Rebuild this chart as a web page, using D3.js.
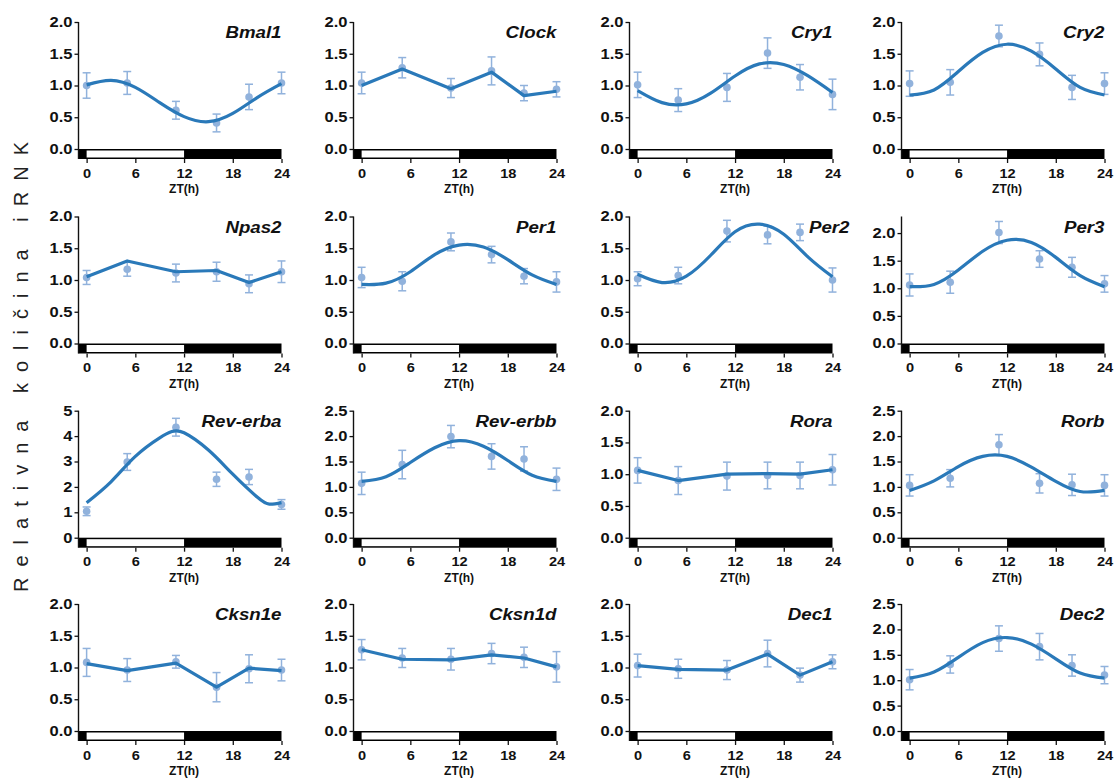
<!DOCTYPE html>
<html lang="sr">
<head>
<meta charset="UTF-8">
<title>Relativna količina iRNK</title>
<script src="https://d3js.org/d3.v7.min.js"></script>
<style>
    body { margin: 0; background: #fff; }
    svg { display: block; font-family: "Liberation Sans", Arial, sans-serif; }
    .tick text { font-weight: bold; font-size: 14px; fill: #111; }
    .x-axis .tick text { font-size: 13.5px; }
    .tick line { stroke: #111; stroke-width: 1.3; }
</style>
</head>
<body>
<div id="chart"></div>
<script>
// sample times (ZT, h) and axis ticks
const sampleTimes = [0, 5, 11, 16, 20, 24];
const fitTimes = [0, 3, 6, 9, 12, 15, 18, 21, 24];
const revErbaFitTimes = [0, 3, 6, 9, 10.5, 12, 15, 18, 21, 22.5, 24];
const xTicks = [0, 6, 12, 18, 24];
const ticks20 = [0, 0.5, 1, 1.5, 2];
const ticks25 = [0, 0.5, 1, 1.5, 2, 2.5];
const ticks5 = [0, 1, 2, 3, 4, 5];

const genes = ["Bmal1", "Clock", "Cry1", "Cry2", "Npas2", "Per1", "Per2", "Per3",
               "Rev-erba", "Rev-erbb", "Rora", "Rorb", "Cksn1e", "Cksn1d", "Dec1", "Dec2"];
const yMax = [2, 2, 2, 2, 2, 2, 2, 2.3, 5, 2.5, 2, 2.5, 2, 2, 2, 2.5];

// means and SEM at sampleTimes
const bmal1Mean = [1.00, 1.04, 0.61, 0.41, 0.82, 1.04];
const bmal1Sem  = [0.20, 0.18, 0.14, 0.14, 0.20, 0.17];
const clockMean = [1.04, 1.28, 0.96, 1.23, 0.88, 0.94];
const clockSem  = [0.17, 0.16, 0.15, 0.22, 0.12, 0.12];
const cry1Mean  = [1.01, 0.77, 0.97, 1.51, 1.13, 0.86];
const cry1Sem   = [0.20, 0.18, 0.22, 0.24, 0.20, 0.24];
const cry2Mean  = [1.03, 1.05, 1.78, 1.49, 0.97, 1.03];
const cry2Sem   = [0.20, 0.20, 0.17, 0.18, 0.19, 0.17];
const npas2Mean = [1.04, 1.17, 1.11, 1.13, 0.94, 1.13];
const npas2Sem  = [0.11, 0.11, 0.14, 0.15, 0.14, 0.17];
const per1Mean  = [1.04, 0.98, 1.60, 1.40, 1.06, 0.97];
const per1Sem   = [0.16, 0.15, 0.14, 0.13, 0.12, 0.16];
const per2Mean  = [1.02, 1.07, 1.77, 1.71, 1.75, 1.00];
const per2Sem   = [0.11, 0.13, 0.17, 0.14, 0.13, 0.19];
const per3Mean  = [1.06, 1.11, 2.01, 1.53, 1.38, 1.08];
const per3Sem   = [0.20, 0.20, 0.20, 0.15, 0.18, 0.15];
const revErbaMean = [1.04, 2.98, 4.35, 2.30, 2.39, 1.31];
const revErbaSem  = [0.17, 0.33, 0.35, 0.28, 0.30, 0.19];
const revErbbMean = [1.07, 1.44, 1.99, 1.60, 1.55, 1.15];
const revErbbSem  = [0.22, 0.28, 0.22, 0.25, 0.24, 0.22];
const roraMean  = [1.06, 0.90, 0.97, 0.98, 0.98, 1.07];
const roraSem   = [0.20, 0.22, 0.22, 0.21, 0.21, 0.24];
const rorbMean  = [1.03, 1.17, 1.83, 1.07, 1.04, 1.03];
const rorbSem   = [0.21, 0.17, 0.20, 0.19, 0.21, 0.21];
const cksn1eMean = [1.08, 0.96, 1.09, 0.69, 0.98, 0.96];
const cksn1eSem  = [0.22, 0.18, 0.10, 0.23, 0.22, 0.17];
const cksn1dMean = [1.28, 1.15, 1.13, 1.22, 1.16, 1.01];
const cksn1dSem  = [0.16, 0.15, 0.17, 0.16, 0.16, 0.24];
const dec1Mean  = [1.03, 0.98, 0.96, 1.22, 0.88, 1.09];
const dec1Sem   = [0.18, 0.15, 0.15, 0.21, 0.11, 0.11];
const dec2Mean  = [1.01, 1.31, 1.82, 1.66, 1.29, 1.10];
const dec2Sem   = [0.20, 0.17, 0.25, 0.26, 0.21, 0.17];

// fitted (cosinor) curves, read at fitTimes
const bmal1Fit   = [1.01, 1.08, 0.97, 0.73, 0.51, 0.43, 0.56, 0.81, 1.03];
const cry1Fit    = [0.92, 0.73, 0.71, 0.88, 1.15, 1.34, 1.33, 1.15, 0.89];
const cry2Fit    = [0.85, 0.93, 1.22, 1.52, 1.65, 1.54, 1.26, 0.97, 0.85];
const per1Fit    = [0.93, 0.95, 1.13, 1.40, 1.55, 1.52, 1.32, 1.08, 0.93];
const per2Fit    = [1.09, 0.96, 1.06, 1.39, 1.76, 1.88, 1.72, 1.36, 1.05];
const per3Fit    = [1.03, 1.07, 1.33, 1.67, 1.87, 1.83, 1.56, 1.23, 1.03];
const revErbaFit = [1.38, 2.20, 3.20, 3.93, 4.18, 4.13, 3.45, 2.50, 1.60, 1.32, 1.38];
const revErbbFit = [1.11, 1.20, 1.48, 1.77, 1.91, 1.80, 1.52, 1.23, 1.11];
const rorbFit    = [0.93, 1.12, 1.40, 1.60, 1.60, 1.39, 1.11, 0.91, 0.93];
const dec2Fit    = [1.04, 1.16, 1.45, 1.74, 1.84, 1.71, 1.42, 1.14, 1.04];

// connecting lines (non-rhythmic genes), at sampleTimes
const clockLine  = [1.00, 1.26, 0.95, 1.21, 0.84, 0.91];
const npas2Line  = [1.05, 1.30, 1.13, 1.15, 0.96, 1.13];
const roraLine   = [1.06, 0.90, 1.00, 1.01, 1.00, 1.07];
const cksn1eLine = [1.06, 0.95, 1.07, 0.69, 0.99, 0.95];
const cksn1dLine = [1.28, 1.13, 1.12, 1.20, 1.15, 1.01];
const dec1Line   = [1.03, 0.97, 0.96, 1.21, 0.88, 1.09];

const means = [bmal1Mean, clockMean, cry1Mean, cry2Mean, npas2Mean, per1Mean, per2Mean, per3Mean,
               revErbaMean, revErbbMean, roraMean, rorbMean, cksn1eMean, cksn1dMean, dec1Mean, dec2Mean];
const sems = [bmal1Sem, clockSem, cry1Sem, cry2Sem, npas2Sem, per1Sem, per2Sem, per3Sem,
              revErbaSem, revErbbSem, roraSem, rorbSem, cksn1eSem, cksn1dSem, dec1Sem, dec2Sem];
const lines = [
    [fitTimes, bmal1Fit, true], [sampleTimes, clockLine, false], [fitTimes, cry1Fit, true], [fitTimes, cry2Fit, true],
    [sampleTimes, npas2Line, false], [fitTimes, per1Fit, true], [fitTimes, per2Fit, true], [fitTimes, per3Fit, true],
    [revErbaFitTimes, revErbaFit, true], [fitTimes, revErbbFit, true], [sampleTimes, roraLine, false], [fitTimes, rorbFit, true],
    [sampleTimes, cksn1eLine, false], [sampleTimes, cksn1dLine, false], [sampleTimes, dec1Line, false], [fitTimes, dec2Fit, true]
];

const W = 1117, H = 778;
const colX = [78.5, 353.5, 629.5, 901.5];
const rowY = [149, 343.5, 537.7, 731];
const plotH = 127, barH = 10;
const pointColor = "#91b2dc", lineColor = "#2a79b9";

const svg = d3.select("#chart").append("svg")
    .attr("width", W)
    .attr("height", H);

svg.append("rect").attr("width", W).attr("height", H).attr("fill", "#fff");

const x = d3.scaleLinear().domain([-1, 24]).range([0, 203]);
const yLabelStretch = 1.18, xLabelStretch = 1.08, geneStretch = 1.1;

genes.forEach((gene, i) => {
    const g = svg.append("g")
        .attr("transform", `translate(${colX[i % 4]},${rowY[Math.floor(i / 4)]})`);

    const top = yMax[i];
    const y = d3.scaleLinear().domain([0, top]).range([0, -plotH]);
    const ticks = top === 5 ? ticks5 : (top === 2.5 ? ticks25 : ticks20);
    const fmt = top === 5 ? d3.format("d") : d3.format(".1f");

    // light/dark bar
    g.append("rect")
        .attr("x", x(-1)).attr("y", 0)
        .attr("width", x(24) - x(-1)).attr("height", barH)
        .attr("fill", "#000");
    g.append("rect")
        .attr("x", x(0)).attr("y", 1.5)
        .attr("width", x(12) - x(0)).attr("height", barH - 3)
        .attr("fill", "#fff");

    // y axis
    const yAxis = g.append("g")
        .call(d3.axisLeft(y).tickValues(ticks).tickFormat(fmt).tickSize(4).tickPadding(2));
    yAxis.select(".domain").remove();
    yAxis.selectAll("text")
        .attr("transform", `scale(${yLabelStretch},1)`)
        .attr("x", -6 / yLabelStretch);
    g.append("line")
        .attr("x1", 0).attr("x2", 0)
        .attr("y1", y(top)).attr("y2", barH)
        .attr("stroke", "#111").attr("stroke-width", 1.4);

    // x axis
    const xAxis = g.append("g")
        .attr("class", "x-axis")
        .attr("transform", `translate(0,${barH})`)
        .call(d3.axisBottom(x).tickValues(xTicks).tickSize(4).tickPadding(5));
    xAxis.select(".domain").remove();
    xAxis.selectAll("text").attr("transform", `scale(${xLabelStretch},1)`);
    xAxis.selectAll(".tick").each(function(d) {
        d3.select(this).select("text").attr("x", 0);
    });

    g.append("text")
        .attr("x", x(12)).attr("y", 44)
        .attr("text-anchor", "middle")
        .style("font-weight", "bold").style("font-size", "12px").style("fill", "#111")
        .text("ZT(h)");

    // error bars + points
    const pts = sampleTimes.map((t, k) => ({ t: t, m: means[i][k], s: sems[i][k] }));
    const eb = g.append("g").attr("stroke", pointColor).attr("stroke-width", 1.5);
    pts.forEach(d => {
        eb.append("line").attr("x1", x(d.t)).attr("x2", x(d.t)).attr("y1", y(d.m - d.s)).attr("y2", y(d.m + d.s));
        eb.append("line").attr("x1", x(d.t) - 4).attr("x2", x(d.t) + 4).attr("y1", y(d.m - d.s)).attr("y2", y(d.m - d.s));
        eb.append("line").attr("x1", x(d.t) - 4).attr("x2", x(d.t) + 4).attr("y1", y(d.m + d.s)).attr("y2", y(d.m + d.s));
    });
    g.append("g").selectAll("circle")
        .data(pts)
        .enter()
        .append("circle")
        .attr("cx", d => x(d.t))
        .attr("cy", d => y(d.m))
        .attr("r", 3.8)
        .attr("fill", pointColor);

    // fitted curve or connecting line
    const [lt, lv, smooth] = lines[i];
    const line = d3.line()
        .x(d => x(d[0]))
        .y(d => y(d[1]))
        .curve(smooth ? d3.curveNatural : d3.curveLinear);
    g.append("path")
        .datum(lt.map((t, k) => [t, lv[k]]))
        .attr("d", line)
        .attr("fill", "none")
        .attr("stroke", lineColor)
        .attr("stroke-width", 3.2)
        .attr("stroke-linejoin", "round");

    // gene name
    const shift = gene === "Per2" ? 17 : 0;
    g.append("text")
        .attr("transform", `scale(${geneStretch},1)`)
        .attr("x", (x(24) + shift) / geneStretch)
        .attr("y", -plotH + 16)
        .attr("text-anchor", "end")
        .style("font-weight", "bold").style("font-style", "italic")
        .style("font-size", "17px").style("fill", "#111")
        .text(gene);
});

// y title
svg.append("text")
    .attr("transform", "translate(27.5,367) rotate(-90)")
    .attr("text-anchor", "middle")
    .attr("textLength", 450)
    .attr("lengthAdjust", "spacing")
    .style("font-size", "20px").style("fill", "#222")
    .text("Relativna količina iRNK");
</script>
</body>
</html>
